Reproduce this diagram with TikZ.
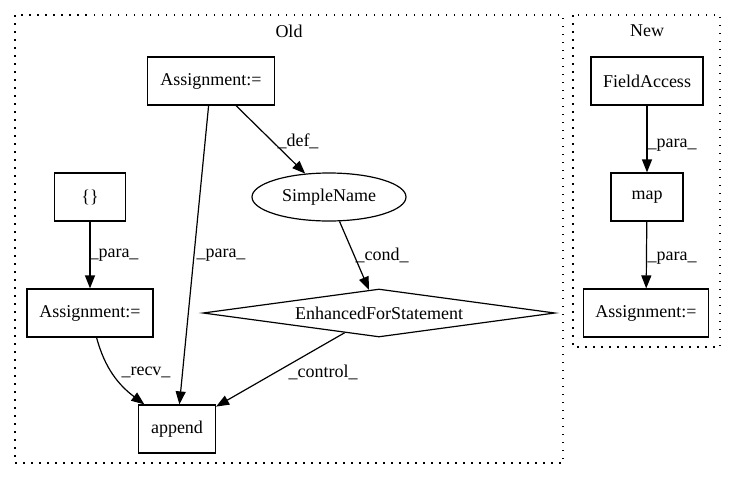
\documentclass[tikz,border=0pt]{standalone}
\usepackage{fontspec}
\setmainfont{Liberation Serif}
\usetikzlibrary{shapes.geometric,arrows.meta}
\begin{document}
\begin{tikzpicture}[x=1pt,y=-1pt,
  every node/.style={font=\fontsize{18}{20}\selectfont},
  box/.style={draw,line width=1.2pt,rectangle,inner sep=0pt,minimum height=48pt},
  ell/.style={draw,line width=1.2pt,ellipse,inner sep=0pt,minimum width=154pt,minimum height=48pt},
  dia/.style={draw,line width=1.2pt,diamond,aspect=7.4,inner sep=0pt,minimum width=352pt,minimum height=48pt},
  arr/.style={draw,line width=1.2pt,-{Triangle[length=13pt,width=10pt]}},
  lbl/.style={inner sep=0pt},
  cluster/.style={draw,line width=1.2pt,dash pattern=on 1.5pt off 6.5pt}]
\useasboundingbox (0,0) rectangle (736,480);
% clusters
\draw[cluster] (15,15) rectangle (563,463);
\draw[cluster] (573,15) rectangle (720,347);
\node[lbl] (oldlbl) at (289,31) {Old};
\node[lbl] (newlbl) at (647,31) {New};
% Old nodes
\node[box,minimum width=127pt] (asg1) at (211,81) {Assignment:=};
\node[ell] (sname) at (329,197) {SimpleName};
\node[box,minimum width=71pt] (brace) at (90,197) {\{\}};
\node[box,minimum width=126pt] (asg2) at (90,313) {Assignment:=};
\node[dia] (efs) at (379,313) {EnhancedForStatement};
\node[box,minimum width=77pt] (append) at (177,429) {append};
% New nodes
\node[box,minimum width=112pt] (field) at (647,81) {FieldAccess};
\node[box,minimum width=72pt] (map) at (647,197) {map};
\node[box,minimum width=125pt] (asg3) at (646,313) {Assignment:=};
% Old edges
\draw[arr] (asg1) -- (append);
\draw[arr] (asg1) -- (sname);
\draw[arr] (brace) -- (asg2);
\draw[arr] (asg2) to[out=-75,in=143] (append);
\draw[arr] (sname) -- (efs);
\draw[arr] (efs) -- (append);
% New edges
\draw[arr] (field) -- (map);
\draw[arr] (map) -- (asg3);
% edge labels
\node[lbl] (l1) at (298,141) {\_def\_};
\node[lbl] (l2) at (114,255) {\_para\_};
\node[lbl] (l3) at (221,255) {\_para\_};
\node[lbl] (l4) at (382,255) {\_cond\_};
\node[lbl] (l5) at (146,372) {\_recv\_};
\node[lbl] (l6) at (323,372) {\_control\_};
\node[lbl] (l7) at (672,145) {\_para\_};
\node[lbl] (l8) at (672,258) {\_para\_};
\end{tikzpicture}
\end{document}
